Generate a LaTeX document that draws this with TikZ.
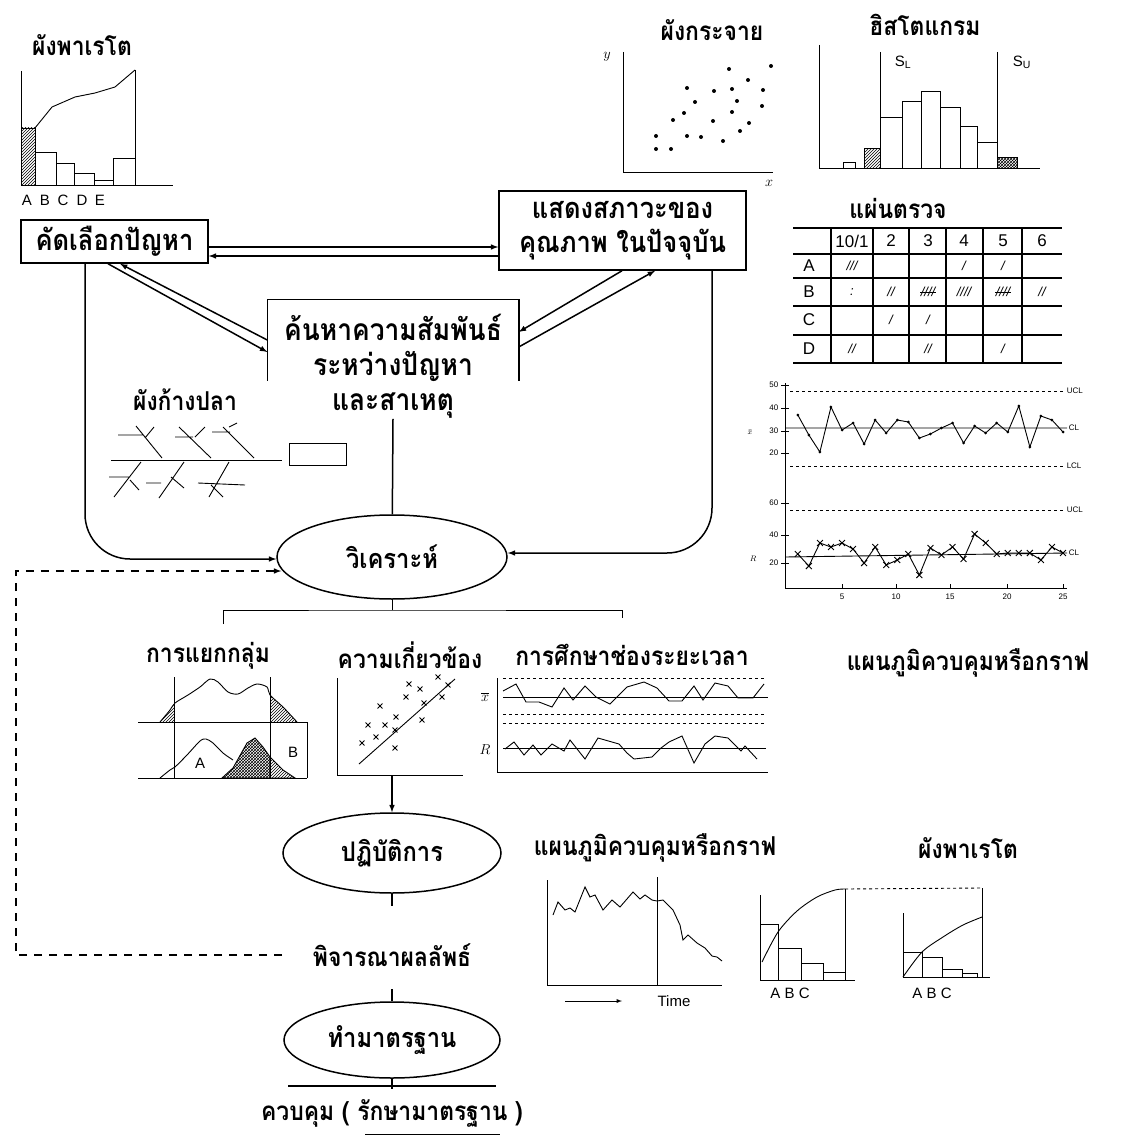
\documentclass[tikz,border=0pt]{standalone}
\usepackage{fontspec}
\setmainfont{Liberation Sans}
\newfontfamily\thai[Script=Thai,FakeStretch=0.88]{Loma}
\usetikzlibrary{positioning,shapes.geometric,shapes.misc,patterns,arrows}

\begin{document}
\begin{tikzpicture}[
  x=1pt,y=-1pt,
  line width=1.5pt,
  ttl/.style={font=\thai\bfseries\fontsize{26}{28}\selectfont,inner sep=0pt},
  box/.style={draw,font=\thai\bfseries\fontsize{29}{34}\selectfont,align=center,inner sep=0pt},
  oval/.style={draw,ellipse,font=\thai\bfseries\fontsize{27}{30}\selectfont,inner sep=0pt},
  lbl/.style={font=\fontsize{15}{16}\selectfont,inner sep=0pt},
  hdr/.style={font=\fontsize{17}{18}\selectfont,inner sep=0pt},
  num/.style={font=\fontsize{8}{9}\selectfont,inner sep=0pt},
  tally/.style={font=\itshape\fontsize{13}{14}\selectfont,inner sep=0pt},
  dot/.style={circle,fill,inner sep=0pt,minimum size=4pt},
  xmark/.style={cross out,draw,inner sep=0pt,minimum size=5pt,line width=0.9pt},
  fine/.style={line width=0.9pt}
]
\useasboundingbox (0,0) rectangle (1123,1137);

% main flow
\node[box,minimum width=187pt,minimum height=43pt] (select) at (114.5,241.5) {คัดเลือกปัญหา};
\node[box,minimum width=247pt,minimum height=79pt] (state) at (622.5,230.5) {แสดงสภาวะของ\\คุณภาพ ในปัจจุบัน};
\node[minimum width=250pt,minimum height=80pt,inner sep=0pt] (relframe) at (393,340) {};
\node[box,draw=none,font=\thai\bfseries\fontsize{30}{35}\selectfont] (relate) at (393,366) {ค้นหาความสัมพันธ์\\ระหว่างปัญหา\\และสาเหตุ};
\node[oval,minimum width=230pt,minimum height=84pt] (analyse) at (392,557) {วิเคราะห์};
\node[oval,minimum width=218pt,minimum height=80pt] (act) at (392,853) {ปฏิบัติการ};
\node[ttl] (result) at (392,955) {พิจารณาผลลัพธ์};
\node[oval,minimum width=216pt,minimum height=76pt] (std) at (392,1040) {ทำมาตรฐาน};
\node[ttl] (control) at (392,1113) {ควบคุม ( รักษามาตรฐาน )};

% titles
\node[ttl] (t-pareto) at (82,45) {ผังพาเรโต};
\node[ttl] (t-scatter) at (712,30) {ผังกระจาย};
\node[ttl] (t-hist) at (925,25) {ฮิสโตแกรม};
\node[ttl] (t-check) at (898,208) {แผ่นตรวจ};
\node[ttl] (t-fish) at (185,400) {ผังก้างปลา};
\node[ttl] (t-strat) at (208,656) {การแยกกลุ่ม};
\node[ttl] (t-corr) at (410,655) {ความเกี่ยวข้อง};
\node[ttl] (t-time) at (632,655) {การศึกษาช่องระยะเวลา};
\node[ttl] (t-ctrl) at (968,663) {แผนภูมิควบคุมหรือกราฟ};
\node[ttl] (t-ctrl2) at (655,848) {แผนภูมิควบคุมหรือกราฟ};
\node[ttl] (t-pareto2) at (968,848) {ผังพาเรโต};

% connectors
\draw (relframe.south west) |- (relframe.north east) -- (relframe.south east);
\draw[-latex] ([yshift=-5.5pt]select.east) -- ([yshift=-16.5pt]state.west);
\draw[latex-] ([yshift=-14.5pt]select.east) -- ([yshift=-25.5pt]state.west);
\draw[latex-] ([xshift=5.5pt]select.south) -- (relframe.west);
\draw[-latex] ([xshift=-6.5pt]select.south) -- ([yshift=-12pt]relframe.west);
\draw[-latex] ([xshift=-0.5pt]state.south) -- ([yshift=8pt]relframe.east);
\draw[latex-] ([xshift=32.5pt]state.south) -- ([yshift=-7pt]relframe.east);
\draw[-latex,rounded corners=45pt] ([xshift=-29.5pt]select.south) |- ([yshift=-2pt]analyse.west);
\draw[-latex,rounded corners=45pt] ([xshift=89.5pt]state.south) |- ([yshift=4pt]analyse.east);
\draw (relate.south) -- (analyse);
\coordinate (brk) at (392,610);
\coordinate (brkL) at (223,624);
\coordinate (brkR) at (622,618);
\draw[fine] (analyse) -- (brk);
\draw[fine] (brkL) |- (brk) -| (brkR);
\coordinate (corrbase) at (392,775);
\draw[-latex] (corrbase) -- (act);
\draw (act.south) -- ++(0,12);
\draw (std.north) -- ++(0,-12);
\draw (std.south) -- ++(0,10);
\draw (288,1086) -- (496,1086);
\draw[fine] (365,1134) -- (500,1134);
\coordinate (fbc) at (16,571);
\draw[dash pattern=on 8pt off 7pt,-latex] ([xshift=-30pt]result.west) -| (fbc) -- ([xshift=5pt,yshift=-14pt]analyse.west);

% pareto (top left)
\draw[fine] (21,71) -- (21,185) -- (173,185);
\draw[fine] (135,70) -- (135,185);
\draw[fine,pattern=north east lines] (21,185) rectangle (35,128);
\foreach \a/\b/\h in {35/56/152,56/74/163,74/94/173,94/113/180,113/135/158}
  \draw[fine] (\a,185) rectangle (\b,\h);
\draw[fine] (35,128) -- (52,107) -- (75,97) -- (95,93) -- (115,87) -- (135,70);
\foreach \l/\x in {A/27,B/45,C/63,D/82,E/100}
  \node[lbl] at (\x,200) {\l};

% scatter
\draw[fine] (623,52) -- (623,172) -- (773,172);
\node[lbl] at (607,57) {$y$};
\node[lbl] at (769,183) {$x$};
\foreach \p in {(687,88),(695,102),(673,120),(684,113),(656,136),(656,149),(671,149),(687,136),(701,137),(713,121),(714,91),(729,69),(732,89),(737,101),(732,112),(723,141),(740,131),(749,123),(748,80),(763,90),(762,106),(771,66)}
  \node[dot] at \p {};

% histogram
\draw[fine] (819,45) -- (819,168) -- (1040,168);
\draw[fine] (880,52) -- (880,168) (997,52) -- (997,168);
\node[lbl] at (903,62) {S\textsubscript{L}};
\node[lbl] at (1022,62) {S\textsubscript{U}};
\draw[fine] (843,168) rectangle (855,162);
\draw[fine,pattern=north east lines] (864,168) rectangle (880,148);
\foreach \a/\b/\h in {880/902/117,902/921/101,921/940/91,940/960/107,960/977/126,977/997/142}
  \draw[fine] (\a,168) rectangle (\b,\h);
\draw[fine,pattern=crosshatch] (997,168) rectangle (1017,157);

% check sheet
\foreach \y in {228,254,278,306,335,363}
  \draw (793,\y) -- (1062,\y);
\foreach \x in {831,873,909,946,983,1022}
  \draw (\x,228) -- (\x,363);
\node[hdr] at (852,241) {10/1};
\foreach \t/\x in {2/891,3/928,4/964,5/1003,6/1042}
  \node[hdr] at (\x,241) {\t};
\foreach \t/\y in {A/266,B/292,C/320,D/349}
  \node[hdr] at (809,\y) {\t};
\node[tally] at (852,266) {///};
\node[tally] at (964,266) {/};
\node[tally] at (1003,266) {/};
\node[tally] at (852,292) {:};
\node[tally] at (891,292) {//};
\node[tally] (b3) at (928,292) {////};
\node[tally] at (964,292) {////};
\node[tally] (b5) at (1003,292) {////};
\node[tally] at (1042,292) {//};
\draw[fine] (b3.west) -- (b3.east);
\draw[fine] (b5.west) -- (b5.east);
\node[tally] at (891,320) {/};
\node[tally] at (928,320) {/};
\node[tally] at (852,349) {//};
\node[tally] at (928,349) {//};
\node[tally] at (1003,349) {/};

% control chart (right)
\draw[fine] (785,383) -- (785,588) -- (1067,588);
\foreach \y/\t in {385/50,408/40,431/30,453/20,503/60,535/40,563/20} {
  \draw[fine] (781,\y) -- (789,\y);
  \node[num,anchor=east] at (779,\y) {\t};
}
\foreach \x/\t in {842/5,896/10,950/15,1007/20,1063/25} {
  \draw[fine] (\x,588) -- (\x,584);
  \node[num] at (\x,597) {\t};
}
\node[num] at (750,432) {$\bar{x}$};
\node[num] at (753,559) {$R$};
\draw[fine,dashed] (790,391) -- (1063,391) (790,466) -- (1063,466) (790,510) -- (1063,510);
\draw[fine] (785,428) -- (1067,428) (785,557) -- (1067,553);
\node[num,anchor=west] at (1066,391) {UCL};
\node[num,anchor=west] at (1068,428) {CL};
\node[num,anchor=west] at (1066,466) {LCL};
\node[num,anchor=west] at (1066,510) {UCL};
\node[num,anchor=west] at (1068,553) {CL};
\draw[fine] (797.8,415) \foreach \y [count=\i from 2] in {435,452,407,430,423,444,420,433,420,422,438,434,428,423,443,426,433,423,432,406,447,416,420,432} { -- ({786.75+11.05*\i},\y) };
\foreach \y [count=\i] in {415,435,452,407,430,423,444,420,433,420,422,438,434,428,423,443,426,433,423,432,406,447,416,420,432}
  \node[dot,minimum size=3pt] at ({786.75+11.05*\i},\y) {};
\draw[fine] (797.8,554) \foreach \y [count=\i from 2] in {566,543,547,543,549,563,547,565,560,554,575,548,555,547,559,534,543,554,553,553,553,560,547,553} { -- ({786.75+11.05*\i},\y) };
\foreach \y [count=\i] in {554,566,543,547,543,549,563,547,565,560,554,575,548,555,547,559,534,543,554,553,553,553,560,547,553}
  \node[xmark] at ({786.75+11.05*\i},\y) {};

% fishbone
\draw[fine] (111,460) -- (282,460);
\draw[fine] (289,443) rectangle (346,465);
\draw[fine] (136,426) -- (162,458) (118,435) -- (143,435) (145,438) -- (154,427);
\draw[fine] (179,427) -- (211,458) (175,437) -- (193,437) (195,437) -- (205,427);
\draw[fine] (223,427) -- (254,458) (212,432) -- (230,432) (229,427) -- (237,423);
\draw[fine] (141,462) -- (114,497) (109,477) -- (130,477) (130,480) -- (139,490);
\draw[fine] (184,462) -- (159,498) (146,483) -- (161,483) (171,477) -- (184,488);
\draw[fine] (229,462) -- (209,497) (198,483) -- (245,485) (211,485) -- (223,497);

% stratification
\draw[fine] (174,677) -- (174,778) (270,677) -- (270,778);
\draw[fine] (138,722) -- (307,722) -- (307,778);
\draw[fine] (138,778) -- (307,778);
\fill[pattern=north east lines] (160,722) -- (170,710) -- (174,705) -- (174,722) -- cycle;
\fill[pattern=north east lines] (270,695) -- (283,707) -- (297,722) -- (270,722) -- cycle;
\draw[fine] plot[smooth] coordinates {(160,722) (170,710) (175,703) (188,695) (200,687) (210,679) (218,682) (228,692) (238,694) (248,688) (257,684) (267,687) (270,695) (283,707) (297,722)};
\draw[fine,pattern=crosshatch] (222,778) -- (233,768) -- (247,743) -- (255,738) -- (263,747) -- (270,757) -- (270,778) -- cycle;
\draw[fine,pattern=north east lines] (270,757) -- (283,770) -- (295,778) -- (270,778) -- cycle;
\draw[fine] plot[smooth] coordinates {(160,778) (170,770) (175,767) (187,755) (200,741) (206,739) (213,743) (223,753) (233,760)};
\node[lbl] at (200,763) {A};
\node[lbl] at (293,752) {B};

% correlation
\draw[fine] (337,678) -- (337,775) -- (463,775);
\draw[fine] (359,764) -- (455,679);
\foreach \p in {(362,743),(376,737),(368,725),(385,725),(396,717),(380,706),(395,730),(395,748),(406,697),(409,684),(420,689),(424,703),(422,720),(442,697),(448,685),(438,677)}
  \node[xmark,minimum size=4pt] at \p {};

% time study
\draw[fine] (497,678) -- (497,772) -- (768,772);
\draw[fine,dashed] (503,678) -- (766,678) (503,714) -- (766,714) (503,723) -- (766,723);
\draw[fine] (503,697) -- (768,697) (503,748) -- (766,748);
\draw[fine] plot coordinates {(503,691) (516,684) (526,702) (539,702) (552,707) (564,688) (573,700) (585,686) (596,697) (610,704) (627,687) (644,682) (657,688) (669,701) (682,701) (694,686) (703,700) (715,683) (728,686) (738,698) (753,698) (764,684)};
\draw[fine] plot coordinates {(505,749) (514,742) (524,755) (533,745) (541,755) (552,744) (564,751) (570,740) (585,759) (598,738) (619,744) (627,753) (634,759) (652,757) (661,748) (669,742) (682,736) (694,763) (705,744) (715,736) (728,738) (741,751) (745,746) (757,759)};
\node[lbl] at (485,697) {$\overline{x}$};
\node[lbl] at (485,750) {$R$};

% control chart (bottom)
\draw[fine] (547,880) -- (547,985) -- (722,985);
\draw[fine] (657,877) -- (657,985);
\draw[fine] plot coordinates {(553,915) (558,902) (565,910) (570,908) (575,912) (585,887) (590,897) (595,895) (603,910) (612,900) (620,907) (633,892) (640,899) (645,895) (652,900) (657,901) (663,900) (673,910) (680,925) (683,940) (688,935) (697,943) (705,948) (712,956) (717,957) (722,961)};
\draw[fine,-latex] (565,1001) -- (622,1001);
\node[lbl] at (674,1001) {Time};

% pareto (bottom)
\draw[fine] (760,895) -- (760,980) -- (855,980);
\draw[fine] (845,889) -- (845,980);
\foreach \a/\b/\h in {760/778/924,778/801/948,801/823/963,823/845/972}
  \draw[fine] (\a,980) rectangle (\b,\h);
\draw[fine] plot[smooth] coordinates {(762,962) (778,932) (797,911) (817,897) (835,890) (845,889)};
\node[lbl] at (790,993) {A B C};
\draw[fine,dashed] (845,889) -- (982,888);
\draw[fine] (982,888) -- (982,977);
\draw[fine] (903,913) -- (903,977) -- (990,977);
\foreach \a/\b/\h in {903/922/952,922/942/957,942/962/969,962/977/973}
  \draw[fine] (\a,977) rectangle (\b,\h);
\draw[fine] plot[smooth] coordinates {(903,977) (922,952) (943,937) (963,925) (982,917)};
\node[lbl] at (932,993) {A B C};
\end{tikzpicture}
\end{document}
